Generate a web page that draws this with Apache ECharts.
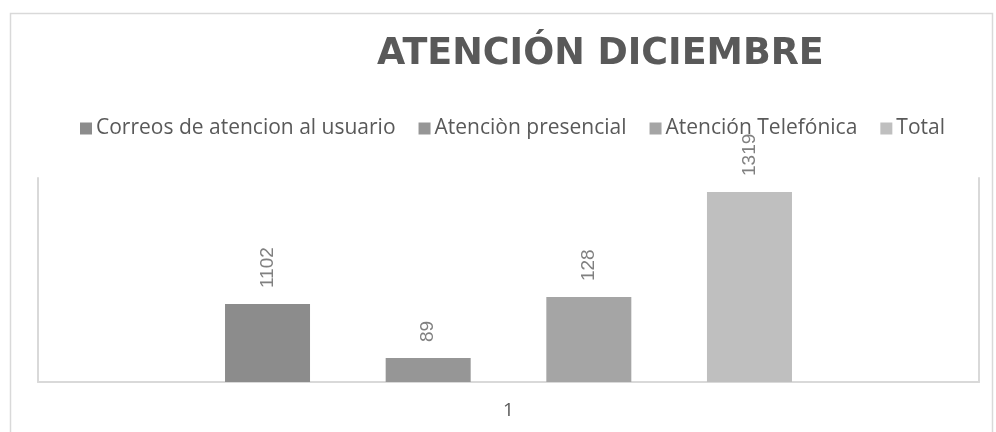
<!DOCTYPE html>
<html>
<head>
<meta charset="utf-8">
<script src="https://cdn.jsdelivr.net/npm/echarts@6/dist/echarts.min.js"></script>
<style>
  html, body { margin: 0; padding: 0; background: #fff; }
  #chart { width: 996px; height: 432px; }
</style>
</head>
<body>
<div id="chart"></div>
<script>
// categoria unica del eje x
var categorias = ['1'];
var series = ['Correos de atencion al usuario', 'Atenciòn presencial', 'Atención Telefónica', 'Total'];
// valores que muestran las etiquetas
var etiquetas = [1102, 89, 128, 1319];
// alturas de las barras tal como se ven (escala 0-1400)
var alturas = [535, 165, 583, 1304];
var colores = ['#8c8c8c', '#969696', '#a5a5a5', '#bfbfbf'];

var myChart = echarts.init(document.getElementById('chart'));

var serieList = [];
for (var i = 0; i < series.length; i++) {
  (function (k) {
    serieList.push({
      name: series[k],
      type: 'bar',
      barWidth: 85,
      barGap: '89%',
      itemStyle: { color: colores[k] },
      label: {
        show: true,
        position: 'top',
        rotate: 90,
        align: 'left',
        verticalAlign: 'middle',
        distance: 16,
        color: '#808080',
        fontFamily: 'Liberation Sans',
        fontSize: 19,
        formatter: function () { return String(etiquetas[k]); }
      },
      data: [alturas[k]]
    });
  })(i);
}

var option = {
  animation: false,
  backgroundColor: '#fff',
  title: {
    text: 'ATENCIÓN DICIEMBRE',
    left: 377,
    top: 36,
    padding: 0,
    textStyle: {
      color: '#595959',
      fontFamily: 'DejaVu Sans',
      fontWeight: 'bold',
      fontSize: 36.5
    }
  },
  legend: {
    data: series,
    left: 80,
    top: 118,
    padding: 0,
    icon: 'rect',
    itemWidth: 12,
    itemHeight: 12,
    itemGap: 23,
    textStyle: {
      color: '#595959',
      fontFamily: 'Open Sans',
      fontSize: 21,
      padding: [0, 0, 0, -1]
    }
  },
  grid: {
    left: 38,
    right: 17,
    top: 178,
    bottom: 50
  },
  xAxis: {
    type: 'category',
    data: categorias,
    axisLine: { lineStyle: { color: '#d9d9d9', width: 2 } },
    axisTick: { show: false },
    axisLabel: {
      color: '#595959',
      fontFamily: 'Open Sans',
      fontSize: 19,
      margin: 19
    }
  },
  yAxis: [
    {
      type: 'value',
      min: 0,
      max: 1400,
      axisLine: { show: true, lineStyle: { color: '#d9d9d9', width: 2 } },
      axisTick: { show: false },
      axisLabel: { show: false },
      splitLine: { show: false }
    },
    {
      type: 'value',
      position: 'right',
      min: 0,
      max: 1400,
      axisLine: { show: true, lineStyle: { color: '#d9d9d9', width: 2 } },
      axisTick: { show: false },
      axisLabel: { show: false },
      splitLine: { show: false }
    }
  ],
  graphic: [
    {
      type: 'rect',
      left: 8,
      top: 11,
      shape: { width: 982, height: 430 },
      style: { fill: null, stroke: '#d9d9d9', lineWidth: 1.5 },
      silent: true
    }
  ],
  series: serieList
};

myChart.setOption(option);
</script>
</body>
</html>
